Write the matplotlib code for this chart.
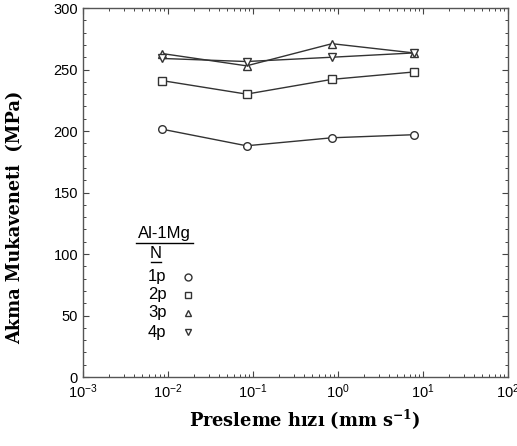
import matplotlib
matplotlib.use('Agg')
import matplotlib.pyplot as plt
from matplotlib.lines import Line2D
from matplotlib.ticker import MultipleLocator, LogLocator, FuncFormatter
import numpy as np

# ram speed (mm/s) and yield strength (MPa) for each pass count
speed = [0.0085, 0.084, 0.85, 7.8]
strength_1p = [201.5, 188, 194.5, 197]
strength_2p = [241, 230, 242, 248]
strength_3p = [263, 253, 271, 263.5]
strength_4p = [259, 256.5, 260, 263.5]
pass_labels = ['1p', '2p', '3p', '4p']
pass_markers = ['o', 's', '^', 'v']

plt.rcParams['xtick.direction'] = 'in'
plt.rcParams['ytick.direction'] = 'in'
plt.rcParams['font.family'] = 'Liberation Sans'
plt.rcParams['font.size'] = 10.5

fig = plt.figure(figsize=(5.17, 4.46), dpi=100)
ax = fig.add_axes([0.1605, 0.1547, 0.822, 0.8273])

line_color = '#333333'
for vals, mk in zip([strength_1p, strength_2p, strength_3p, strength_4p], pass_markers):
    ax.plot(speed, vals, color=line_color, lw=1.0, marker=mk, ms=5.5,
            mfc='white', mec=line_color, mew=1.0)

ax.set_xscale('log')
ax.set_xlim(1e-3, 1e2)
ax.set_ylim(0, 300)
ax.yaxis.set_major_locator(MultipleLocator(50))
ax.yaxis.set_minor_locator(MultipleLocator(10))
ax.xaxis.set_major_locator(LogLocator(base=10, numticks=10))
ax.xaxis.set_minor_locator(LogLocator(base=10, subs=np.arange(2, 10), numticks=10))
ax.xaxis.set_major_formatter(FuncFormatter(
    lambda v, p: '10$\\mathregular{^{%d}}$' % int(round(np.log10(v)))))
ax.tick_params(which='both', top=True, right=True, color='#444444')
ax.tick_params(which='major', length=4, width=0.8)
ax.tick_params(which='minor', length=2.5, width=0.7)
ax.tick_params(axis='x', which='major', pad=4)
for sp in ax.spines.values():
    sp.set_color('#555555')
    sp.set_linewidth(1.0)

ax.set_ylabel('Akma Mukaveneti  (MPa)', family='DejaVu Serif',
              fontweight='bold', fontsize=12.8, va='center')
ax.set_xlabel('Presleme hızı (mm s$\\mathregular{^{-1}}$)', family='DejaVu Serif',
              fontweight='bold', fontsize=12.8, va='center')
ax.yaxis.set_label_coords(-0.16, 0.434)
ax.xaxis.set_label_coords(0.522, -0.117)

# hand-made legend block
W, H = 517.0, 446.0
def fx(px):
    return px / W
def fy(py):
    return 1 - py / H

fig.text(fx(164), fy(234), 'Al-1Mg', ha='center', va='center', fontsize=12)
fig.add_artist(Line2D([fx(136), fx(193)], [fy(243), fy(243)], color='black', lw=1.0))
fig.text(fx(156), fy(253), 'N', ha='center', va='center', fontsize=12)
fig.add_artist(Line2D([fx(151), fx(161)], [fy(262), fy(262)], color='black', lw=1.0))
rows_y = [277, 295, 313, 332]
for lab, mk, ry in zip(pass_labels, pass_markers, rows_y):
    fig.text(fx(148), fy(ry), lab, ha='left', va='center', fontsize=12)
    ax.plot([fx(188)], [fy(ry)], marker=mk, ms=5, mfc='white', mec='#333333',
            mew=1.0, transform=fig.transFigure, clip_on=False)

fig.savefig('out.png', dpi=100)
